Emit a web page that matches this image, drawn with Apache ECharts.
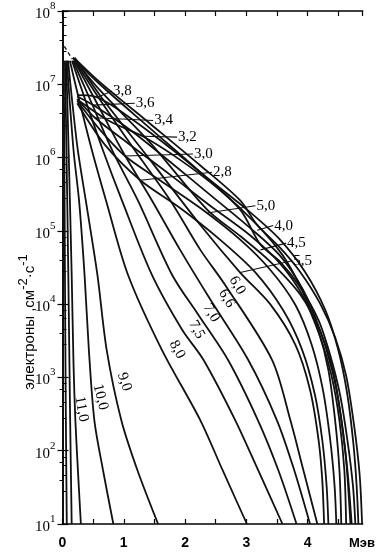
<!DOCTYPE html>
<html><head><meta charset="utf-8">
<script src="https://cdn.jsdelivr.net/npm/echarts@6/dist/echarts.min.js"></script>
<style>html,body{margin:0;padding:0;background:#fff}#c{width:389px;height:558px}</style>
</head><body><div id="c"></div>
<script>
// Energy (MeV) vs electron flux (cm^-2 s^-1) for different L values
const U13 = [[0.02,2.1e7],[0.03,1.26e6],[0.04,2.5e4],[0.055,260],[0.07,10]];
const U12 = [[0.04,2.1e7],[0.065,1.26e6],[0.095,2.5e4],[0.125,260],[0.15,10]];
const L11_0 = [[0.06,2.1e7],[0.1,1.26e6],[0.15,2.5e4],[0.18,1.5e3],[0.21,260],[0.26,40],[0.3,10]];
const L10_0 = [[0.07,2.1e7],[0.18,1.26e6],[0.27,2.6e5],[0.36,2.5e4],[0.43,2.4e3],[0.52,260],[0.66,55],[0.83,10]];
const L9_0 = [[0.09,2.1e7],[0.155,6.2e6],[0.25,1.26e6],[0.38,2.6e5],[0.57,2.5e4],[0.72,2.4e3],[0.96,260],[1.22,55],[1.56,10]];
const L8_0 = [[0.12,2.1e7],[0.27,6.2e6],[0.48,1.26e6],[0.71,2.6e5],[1.07,2.5e4],[1.62,2.4e3],[2.25,260],[2.61,55],[3.01,10]];
const L7_5 = [[0.155,2.1e7],[0.37,6.2e6],[0.66,1.26e6],[0.97,2.6e5],[1.46,2.5e4],[1.95,4.5e3],[2.3,1.74e3],[2.82,260],[3.19,55],[3.59,10]];
const L7_0 = [[0.17,2.1e7],[0.45,6.2e6],[0.81,1.26e6],[1.23,2.6e5],[1.79,2.5e4],[2.2,7.5e3],[2.7,1.74e3],[3.19,260],[3.52,55],[3.82,10]];
const L6_6 = [[0.19,2.1e7],[0.53,6.2e6],[0.97,1.26e6],[1.46,2.6e5],[1.92,5.5e4],[2.4,1.2e4],[3.03,1.74e3],[3.5,260],[3.78,55],[4.04,10]];
const L6_0 = [[0.2,2.1e7],[0.61,6.2e6],[1.18,1.26e6],[1.76,2.6e5],[2.25,5.5e4],[2.66,1.8e4],[3.42,1.74e3],[3.72,260],[3.93,55],[4.16,10]];
const L5_5 = [[0.2,2.3e7],[0.61,7.1e6],[1.43,9.3e5],[2.25,1.2e5],[2.9,2.7e4],[3.39,1e4],[3.8,2.8e3],[4.04,680],[4.18,140],[4.24,40],[4.27,10]];
const L5_0 = [[0.17,2.3e7],[0.61,8.3e6],[1.43,1.6e6],[2.36,1.95e5],[2.9,8.5e4],[3.39,3.8e4],[3.88,1.35e4],[4.21,4.2e3],[4.42,1.2e3],[4.55,260],[4.65,55],[4.72,10]];
const L4_5 = [[0.17,2.3e7],[0.61,1e7],[1.43,2.5e6],[2.25,6.3e5],[2.9,1.95e5],[3.23,6.5e4],[3.55,3.8e4],[3.88,1.7e4],[4.18,6e3],[4.37,2e3],[4.53,580],[4.65,140],[4.74,34],[4.78,10]];
const L4_0 = [[0.19,2.3e7],[0.61,1.07e7],[1.43,2.9e6],[2.25,7.8e5],[2.9,2.6e5],[3.17,1.23e5],[3.55,5.9e4],[3.88,2.75e4],[4.21,1e4],[4.45,3.5e3],[4.63,1.05e3],[4.76,220],[4.85,47],[4.89,10]];
const L3_8 = [[0.24,7.1e6],[0.53,6.8e6],[1.1,3.5e6],[1.76,1.35e6],[2.41,4.9e5],[3.06,1.8e5],[3.55,7.6e4],[3.96,2.75e4],[4.29,8.3e3],[4.5,2.4e3],[4.65,580],[4.75,120],[4.8,34],[4.83,10]];
const L3_6 = [[0.24,6.8e6],[0.5,5.2e6],[1.1,2.4e6],[1.76,8.7e5],[2.41,3.1e5],[3.06,1.1e5],[3.55,4.6e4],[3.93,1.55e4],[4.2,4.5e3],[4.4,1.26e3],[4.53,360],[4.63,74],[4.7,10]];
const L3_4 = [[0.24,6.3e6],[0.53,3.5e6],[1.1,1.5e6],[1.76,5.8e5],[2.41,2.2e5],[3.06,8.7e4],[3.55,3.6e4],[3.93,1.26e4],[4.21,3.5e3],[4.39,1.07e3],[4.52,260],[4.6,55],[4.63,10]];
const L3_2 = [[0.24,6.2e6],[0.78,3.1e6],[1.31,1.95e6],[1.92,9.3e5],[2.57,3.6e5],[3.14,1.3e5],[3.59,4.7e4],[3.91,1.55e4],[4.17,4.5e3],[4.34,1.26e3],[4.45,260],[4.52,55],[4.55,10]];
const L3_0 = [[0.24,5.9e6],[0.61,2.4e6],[1.02,1.05e6],[1.59,4.9e5],[2.25,2.05e5],[2.9,7.6e4],[3.39,2.95e4],[3.8,9.8e3],[4.07,2.75e3],[4.25,680],[4.37,140],[4.44,34],[4.47,10]];
const L2_8 = [[0.24,5.5e6],[0.69,1.5e6],[1.27,4.9e5],[1.92,2.05e5],[2.57,7.6e4],[3.14,2.75e4],[3.6,8.3e3],[3.91,2.4e3],[4.12,580],[4.24,140],[4.31,34],[4.34,10]];
const ENVELOPE_DASH = [[0.03,3.3e7],[0.16,2.2e7]];

const curves = [U13,U12,L11_0,L10_0,L9_0,L8_0,L7_5,L7_0,L6_6,L6_0,L5_5,L5_0,L4_5,L4_0,L3_8,L3_6,L3_4,L3_2,L3_0,L2_8];

// labels with leader lines: [text, leader start (on curve), leader end (text anchor)]
const leaderLabels = [
  ['3,8',[0.58,6.7e6],[0.81,8.1e6]],
  ['3,6',[0.50,5.2e6],[1.18,5.5e6]],
  ['3,4',[0.53,3.5e6],[1.48,3.2e6]],
  ['3,2',[1.32,1.95e6],[1.87,1.9e6]],
  ['3,0',[1.02,1.05e6],[2.13,1.12e6]],
  ['2,8',[1.27,4.9e5],[2.44,6.3e5]],
  ['5,0',[2.36,1.75e5],[3.15,2.2e5]],
  ['4,0',[3.18,1.02e5],[3.44,1.18e5]],
  ['4,5',[3.23,5.5e4],[3.65,6.8e4]],
  ['5,5',[2.90,2.7e4],[3.75,3.9e4]]
];
// rotated labels along curves: [text, x, y, rotation]
const rotLabels = [
  ['6,0',2.85,1.8e4,-60],
  ['6,6',2.68,1.2e4,-60],
  ['7,0',2.43,7.6e3,-60],
  ['7,5',2.19,4.5e3,-62],
  ['8,0',1.87,2.4e3,-62],
  ['9,0',1.01,870,-72],
  ['10,0',0.62,540,-76],
  ['11,0',0.31,370,-80]
];
const xTicks = [0,1,2,3,4];

const chart = echarts.init(document.getElementById('c'), null, {renderer:'canvas'});
const lineColor = '#111';
const series = curves.map(d => ({
  type:'line', data:d, symbol:'none', smooth:0.3, clip:true,
  lineStyle:{color:lineColor, width:1.8}, silent:true
}));
series.push({type:'line', data:ENVELOPE_DASH, symbol:'none', lineStyle:{color:lineColor,width:1.3,type:[4,3]}, silent:true});
series.push({
  type:'line', data:[], symbol:'none', silent:true,
  markLine:{symbol:'none', silent:true, animation:false,
    lineStyle:{color:lineColor, width:1.1, type:'solid'}, label:{show:false},
    data: leaderLabels.map(l => [{coord:l[1]},{coord:l[2]}])},
  markPoint:{silent:true, animation:false, symbol:'circle', symbolSize:0,
    data: leaderLabels.map(l => ({coord:l[2], label:{show:true, formatter:l[0], position:'right', distance:1,
      color:'#000', fontFamily:'Liberation Serif', fontSize:15}}))
     .concat(rotLabels.map(l => ({coord:[l[1],l[2]], label:{show:true, formatter:l[0], position:'inside', rotate:l[3],
      color:'#000', fontFamily:'Liberation Serif', fontSize:15}})))}
});

const supRich = {
  b:{fontFamily:'Liberation Serif', fontSize:15, color:'#000', lineHeight:21, verticalAlign:'bottom'},
  s:{fontFamily:'Liberation Serif', fontSize:11, color:'#000', lineHeight:10, verticalAlign:'top'}
};

chart.setOption({
  animation:false,
  grid:{left:62.5, right:26.3, top:11, bottom:34},
  xAxis:[{
    type:'value', min:0, max:4.9, interval:0.5,
    axisLine:{lineStyle:{color:'#000', width:1.5}},
    axisTick:{inside:true, length:5, lineStyle:{color:'#000', width:1.2}},
    axisLabel:{margin:12, color:'#000', fontFamily:'Liberation Sans', fontWeight:'bold', fontSize:14,
      showMaxLabel:false, formatter:v => xTicks.indexOf(v) >= 0 ? String(v) : ''},
    splitLine:{show:false}
  },{
    type:'value', min:0, max:4.9, interval:0.5, position:'top',
    axisLine:{lineStyle:{color:'#000', width:1.5}},
    axisTick:{inside:true, length:5, lineStyle:{color:'#000', width:1.2}},
    axisLabel:{show:false}, splitLine:{show:false}
  }],
  yAxis:[{
    type:'log', logBase:10, min:10, max:1e8,
    axisLine:{lineStyle:{color:'#000', width:1.5}},
    axisTick:{inside:true, length:6, lineStyle:{color:'#000', width:1.2}},
    minorTick:{show:true, splitNumber:5, length:4, lineStyle:{color:'#000'}},
    axisLabel:{margin:7, formatter:v => '{b|10}{s|' + Math.round(Math.log10(v)) + '}', rich:supRich},
    splitLine:{show:false}
  },{
    type:'log', logBase:10, min:10, max:1e8, position:'right',
    axisLine:{lineStyle:{color:'#000', width:1.5}},
    axisTick:{inside:true, length:5, lineStyle:{color:'#000', width:1.2}},
    minorTick:{show:true, splitNumber:3, length:3, lineStyle:{color:'#000'}},
    axisLabel:{show:false}, splitLine:{show:false}
  }],
  graphic:[
    {type:'text', right:14, bottom:8, style:{text:'Мэв', font:'bold 13px "Liberation Sans"', fill:'#000'}},
    {type:'text', x:27, y:322, rotation:Math.PI/2, style:{
      text:'{t|электроны ,см}{s|-2}{t|·с}{s|-1}', align:'center', verticalAlign:'middle',
      rich:{
        t:{fontFamily:'Liberation Sans', fontSize:15, fill:'#000', lineHeight:20, verticalAlign:'bottom'},
        s:{fontFamily:'Liberation Sans', fontSize:13, fill:'#000', lineHeight:11, verticalAlign:'top'}
      }}}
  ],
  series
});
</script></body></html>
